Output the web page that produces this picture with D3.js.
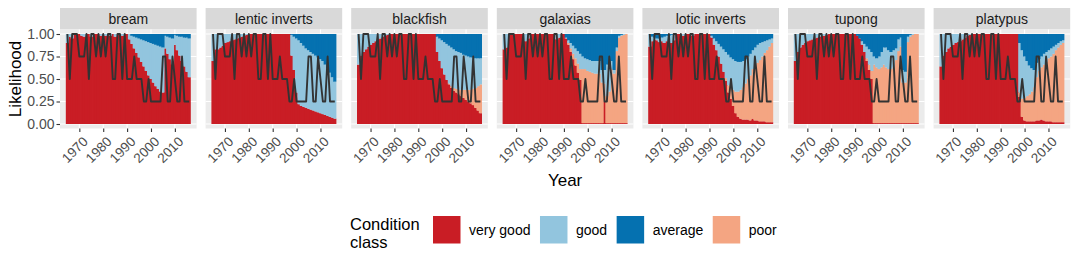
<!DOCTYPE html>
<html>
<head>
<meta charset="utf-8">
<script src="https://cdn.jsdelivr.net/npm/d3@7"></script>
<style>
body { margin: 0; background: #fff; }
text { font-family: "Liberation Sans", Arial, sans-serif; }
</style>
</head>
<body>
<svg id="chart" width="1072" height="253"></svg>
<script>
// facets, years and class names
const facets = ["bream", "lentic inverts", "blackfish", "galaxias", "lotic inverts", "tupong", "platypus"];
const years = d3.range(1965, 2017);
const yearTicks = [1970, 1980, 1990, 2000, 2010];
const likelihoodTicks = [0, 0.25, 0.5, 0.75, 1];
const classes = ["very good", "good", "average", "poor"];
const classColours = ["#c91d25", "#92c5de", "#0571b0", "#f4a582"];

// observed condition line (same series drawn in every panel)
const observed = [1, .5, 1, 1, 1, .75, .75, .75, 1, .5, 1, 1, .75, 1, .75, 1, .75, 1, 1, .5, .5, 1, 1, .5, 1, .5,
  .5, .5, .75, .5, .5, .5, .25, .25, .5, .25, .25, .25, .25, .25, .75, .75, .25, .25, .75, .5, .25, .25, .75, .25, .25, .25];

// likelihood (%) per facet, per year 1965-2016
const veryGood = [
  [90,97,95,100,100,100,98,97,100,100,97,100,100,100,98,100,98,100,98,100,97,100,100,98,100,100,94,89,84,79,74,69,64,59,54,50,46,42,39,36,35,84,78,72,66,88,82,76,70,64,58,52],
  [70,83,83,85,87,90,91,92,93,94,95,96,97,98,99,100,100,100,100,100,100,100,100,100,100,100,100,100,100,100,100,100,100,76,60,35,22,20,19,18,17,16,15,14,13,12,11,10,9,8,7,6],
  [66,76,80,83,86,88,90,92,94,95,97,98,99,100,100,100,100,100,100,100,100,100,100,100,100,100,100,100,100,100,100,100,100,80,70,62,55,49,44,40,37,35,33,31,29,27,25,23,21,18,15,12],
  [83,85,100,100,100,100,100,100,100,92,95,100,100,100,100,100,100,100,100,100,100,100,94,96,100,100,95,88,80,72,65,57,49,1,1,1,1,1,1,1,1,1,25,1,1,1,1,1,1,1,1,1],
  [86,92,94,93,91,92,90,92,91,90,93,100,100,100,98,100,100,100,98,100,100,100,100,100,100,100,96,88,82,75,67,58,48,35,28,20,12,8,6,5,5,5,4,6,4,4,3,3,3,2,2,2],
  [70,80,85,88,90,92,93,94,95,96,97,98,98,99,100,100,100,100,100,100,100,100,100,100,100,100,98,95,88,80,70,60,50,1,1,1,1,1,1,1,1,1,1,1,1,1,1,1,1,1,1,1],
  [64,76,80,84,86,88,90,91,92,94,96,98,99,100,100,100,100,100,100,100,100,100,100,100,100,100,100,100,100,100,100,100,100,30,8,4,3,3,3,3,4,4,5,4,3,3,3,2,2,2,2,2]
];
const good = [
  [10,3,5,0,0,0,2,3,0,0,3,0,0,0,2,0,2,0,2,0,3,0,0,2,0,0,6,9,13,17,21,25,29,33,37,40,43,46,48,50,50,14,19,24,29,11,16,21,27,32,38,43],
  [30,17,17,15,13,10,9,8,7,6,5,4,3,2,1,0,0,0,0,0,0,0,0,0,0,0,0,0,0,0,0,0,0,23,37,60,71,70,68,66,65,64,63,62,61,60,59,56,53,49,45,41],
  [34,24,20,17,14,12,10,8,6,5,3,2,1,0,0,0,0,0,0,0,0,0,0,0,0,0,0,0,0,0,0,0,0,17,25,31,36,40,42,43,43,42,42,41,39,38,37,36,35,33,31,29],
  [17,15,0,0,0,0,0,0,0,8,5,0,0,0,0,0,0,0,0,0,0,0,6,4,0,0,1,3,6,9,11,14,17,14,12,13,13,13,14,14,14,14,15,35,30,9,4,4,2,1,1,0],
  [14,5,2,2,4,4,7,6,7,9,7,0,0,0,2,0,0,0,2,0,0,0,0,0,0,0,2,7,10,14,19,25,29,34,33,34,34,33,31,29,27,25,24,21,21,20,19,16,13,11,8,5],
  [30,20,15,12,10,8,7,6,5,4,3,2,2,1,0,0,0,0,0,0,0,0,0,0,0,0,0,0,4,9,13,17,21,9,10,14,17,19,22,21,19,19,13,13,10,14,12,6,2,1,0,0],
  [36,24,20,16,14,12,10,9,8,6,4,2,1,0,0,0,0,0,0,0,0,0,0,0,0,0,0,0,0,0,0,0,0,55,54,46,39,32,26,19,16,13,12,12,11,9,9,8,6,5,4,3]
];
const average = [
  [0,0,0,0,0,0,0,0,0,0,0,0,0,0,0,0,0,0,0,0,0,0,0,0,0,0,0,2,3,4,5,6,7,8,9,10,11,12,13,14,15,2,3,4,5,1,2,3,3,4,4,5],
  [0,0,0,0,0,0,0,0,0,0,0,0,0,0,0,0,0,0,0,0,0,0,0,0,0,0,0,0,0,0,0,0,0,1,3,5,7,10,13,16,18,20,22,24,26,28,30,34,38,43,48,53],
  [0,0,0,0,0,0,0,0,0,0,0,0,0,0,0,0,0,0,0,0,0,0,0,0,0,0,0,0,0,0,0,0,0,3,5,7,9,11,13,15,17,19,20,21,23,24,25,26,26,27,27,27],
  [0,0,0,0,0,0,0,0,0,0,0,0,0,0,0,0,0,0,0,0,0,0,0,0,0,0,4,7,10,13,16,19,22,25,27,28,29,30,30,30,30,40,40,34,34,30,40,15,2,1,0,0],
  [0,3,4,5,5,4,3,2,2,1,0,0,0,0,0,0,0,0,0,0,0,0,0,0,0,0,2,5,8,11,14,17,20,23,26,28,30,31,31,30,28,25,22,18,15,12,10,9,8,7,6,5],
  [0,0,0,0,0,0,0,0,0,0,0,0,0,0,0,0,0,0,0,0,0,0,0,0,0,0,2,5,8,11,14,17,20,25,27,25,20,15,15,18,20,18,16,6,4,40,42,3,1,0,0,0],
  [0,0,0,0,0,0,0,0,0,0,0,0,0,0,0,0,0,0,0,0,0,0,0,0,0,0,0,0,0,0,0,0,0,10,18,25,30,35,38,40,32,28,25,22,20,18,16,14,12,10,8,7]
];
const poor = [
  [0,0,0,0,0,0,0,0,0,0,0,0,0,0,0,0,0,0,0,0,0,0,0,0,0,0,0,0,0,0,0,0,0,0,0,0,0,0,0,0,0,0,0,0,0,0,0,0,0,0,0,0],
  [0,0,0,0,0,0,0,0,0,0,0,0,0,0,0,0,0,0,0,0,0,0,0,0,0,0,0,0,0,0,0,0,0,0,0,0,0,0,0,0,0,0,0,0,0,0,0,0,0,0,0,0],
  [0,0,0,0,0,0,0,0,0,0,0,0,0,0,0,0,0,0,0,0,0,0,0,0,0,0,0,0,0,0,0,0,0,0,0,0,0,0,1,2,3,4,5,7,9,11,13,15,18,22,27,32],
  [0,0,0,0,0,0,0,0,0,0,0,0,0,0,0,0,0,0,0,0,0,0,0,0,0,0,0,2,4,6,8,10,12,60,60,58,57,56,55,55,55,45,20,30,35,60,55,80,95,97,98,99],
  [0,0,0,0,0,0,0,0,0,0,0,0,0,0,0,0,0,0,0,0,0,0,0,0,0,0,0,0,0,0,0,0,3,8,13,18,24,28,32,36,40,45,50,55,60,64,68,72,76,80,84,88],
  [0,0,0,0,0,0,0,0,0,0,0,0,0,0,0,0,0,0,0,0,0,0,0,0,0,0,0,0,0,0,3,6,9,65,62,60,62,65,62,60,60,62,70,80,85,45,45,90,96,98,99,99],
  [0,0,0,0,0,0,0,0,0,0,0,0,0,0,0,0,0,0,0,0,0,0,0,0,0,0,0,0,0,0,0,0,0,5,20,25,28,30,33,38,48,55,58,62,66,70,72,76,80,83,86,88]
];

const svg = d3.select("#chart");
const left = 60, topY = 8, stripH = 21.5, panelW = 136.6, panelH = 99, gap = 9;
const panelTop = topY + stripH;
const colour = d3.scaleOrdinal().domain(classes).range(classColours);
const stackKeys = ["very good", "poor", "good", "average"];   // bottom to top

// continuous year axis with ggplot-like 5% expansion
const span = (years[years.length - 1] + 0.5) - (years[0] - 0.5);
const x = d3.scaleLinear()
  .domain([years[0] - 0.5 - span * 0.05, years[years.length - 1] + 0.5 + span * 0.05])
  .range([0, panelW]);
const y = d3.scaleLinear().domain([-0.05, 1.05]).range([panelH, 0]);
const barW = x(1) - x(0);

const line = d3.line().x(d => x(d.year)).y(d => y(d.v));

facets.forEach(function(name, f) {
  const px = left + f * (panelW + gap);
  const rows = years.map((yr, i) => ({
    year: yr,
    "very good": veryGood[f][i] / 100,
    good: good[f][i] / 100,
    average: average[f][i] / 100,
    poor: poor[f][i] / 100
  }));
  const series = d3.stack().keys(stackKeys)(rows);

  // strip
  svg.append("rect").attr("x", px).attr("y", topY).attr("width", panelW).attr("height", stripH).attr("fill", "#d9d9d9");
  svg.append("text").attr("x", px + panelW / 2).attr("y", topY + stripH / 2).attr("dy", "0.35em")
    .attr("text-anchor", "middle").attr("font-size", 14).attr("fill", "#1a1a1a").text(name);

  const g = svg.append("g").attr("transform", "translate(" + px + "," + panelTop + ")");
  g.append("rect").attr("width", panelW).attr("height", panelH).attr("fill", "#ebebeb");

  // grid
  g.selectAll(".ygrid").data(likelihoodTicks).join("line")
    .attr("x1", 0).attr("x2", panelW).attr("y1", d => y(d)).attr("y2", d => y(d))
    .attr("stroke", "#fff").attr("stroke-width", 1.1);
  g.selectAll(".xgrid").data(yearTicks).join("line")
    .attr("y1", 0).attr("y2", panelH).attr("x1", d => x(d)).attr("x2", d => x(d))
    .attr("stroke", "#fff").attr("stroke-width", 1.1);

  // stacked bars (slight overlap so no seams show between years)
  g.selectAll(".layer").data(series).join("g")
    .attr("fill", d => colour(d.key))
    .selectAll("rect").data(d => d).join("rect")
    .attr("x", d => x(d.data.year - 0.5) - 0.4)
    .attr("width", barW + 0.8)
    .attr("y", d => y(d[1]))
    .attr("height", d => Math.max(0, y(d[0]) - y(d[1])));

  // observed line
  g.append("path")
    .datum(years.map((yr, i) => ({year: yr, v: observed[i]})))
    .attr("d", line).attr("fill", "none").attr("stroke", "#333333")
    .attr("stroke-width", 1.9).attr("stroke-linejoin", "round");

  // x axis
  const xa = g.append("g").attr("transform", "translate(0," + panelH + ")")
    .call(d3.axisBottom(x).tickValues(yearTicks).tickFormat(d3.format("d")).tickSize(3.5).tickPadding(2));
  xa.select(".domain").remove();
  xa.selectAll("line").attr("stroke", "#333333").attr("stroke-width", 1.1);
  xa.selectAll("text")
    .attr("font-size", 13.5).attr("fill", "#4d4d4d").attr("font-family", null)
    .attr("text-anchor", "end").attr("y", 0).attr("dy", "0.72em")
    .attr("transform", "translate(2,7) rotate(-45)");

  if (f === 0) {
    const ya = g.append("g")
      .call(d3.axisLeft(y).tickValues(likelihoodTicks).tickFormat(d3.format(".2f")).tickSize(3.5).tickPadding(2));
    ya.select(".domain").remove();
    ya.selectAll("line").attr("stroke", "#333333").attr("stroke-width", 1.1);
    ya.selectAll("text").attr("font-size", 14).attr("fill", "#4d4d4d").attr("font-family", null);
  }
});

// axis titles
svg.append("text").attr("transform", "translate(21," + (panelTop + panelH / 2) + ") rotate(-90)")
  .attr("text-anchor", "middle").attr("font-size", 17).attr("fill", "#000").text("Likelihood");
const panelsRight = left + facets.length * panelW + (facets.length - 1) * gap;
svg.append("text").attr("x", (left + panelsRight) / 2).attr("y", 186)
  .attr("text-anchor", "middle").attr("font-size", 17).attr("fill", "#000").text("Year");

// legend
const legend = svg.append("g");
legend.append("text").attr("x", 350).attr("y", 230).attr("font-size", 16.5).text("Condition");
legend.append("text").attr("x", 350).attr("y", 248).attr("font-size", 16.5).text("class");
let kx = 433;
classes.forEach(function(c) {
  legend.append("rect").attr("x", kx).attr("y", 216).attr("width", 27.5).attr("height", 27.5).attr("fill", colour(c));
  const t = legend.append("text").attr("x", kx + 36).attr("y", 234.5).attr("font-size", 14).attr("fill", "#000").text(c);
  kx = kx + 36 + t.node().getComputedTextLength() + 9.5;
});
</script>
</body>
</html>
